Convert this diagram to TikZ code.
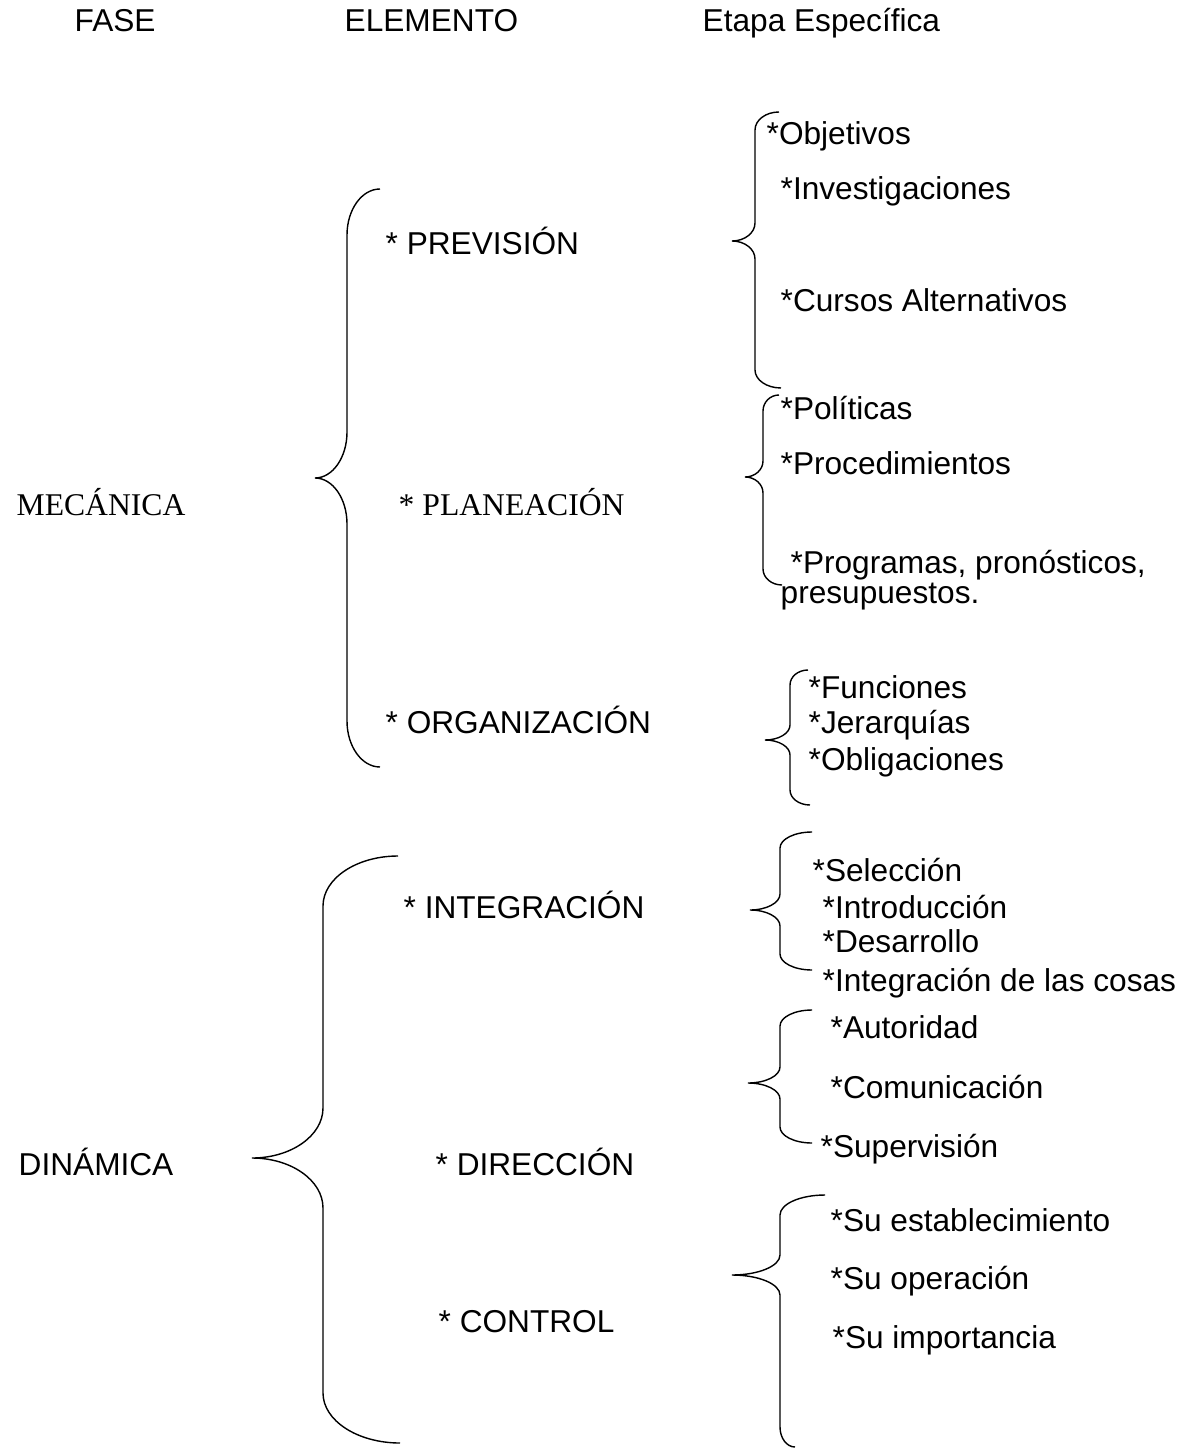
\documentclass[tikz,border=0pt]{standalone}
\usepackage{fontspec}
\setmainfont{Liberation Sans}
\newfontfamily\timesfont{Liberation Serif}
\usetikzlibrary{calc}

% llave: xt, yt, x vertical, x punta, y punta, xb, yb, radio
\newcommand{\llave}[8]{%
    \pgfmathsetmacro{\ka}{#1+0.552*(#3-#1)}
    \pgfmathsetmacro{\kb}{#2+0.448*#8}
    \pgfmathsetmacro{\kc}{#5-0.448*#8}
    \pgfmathsetmacro{\kd}{#4+0.552*(#3-#4)}
    \pgfmathsetmacro{\ke}{#5+0.448*#8}
    \pgfmathsetmacro{\kf}{#6+0.552*(#3-#6)}
    \pgfmathsetmacro{\kg}{#7-0.448*#8}
    \draw (#1,#2) .. controls (\ka,#2) and (#3,\kb) .. (#3,#2+#8) -- (#3,#5-#8)
    .. controls (#3,\kc) and (\kd,#5) .. (#4,#5)
    .. controls (\kd,#5) and (#3,\ke) .. (#3,#5+#8) -- (#3,#7-#8)
    .. controls (#3,\kg) and (\kf,#7) .. (#6,#7);
}

\begin{document}
\begin{tikzpicture}[x=0.02cm, y=-0.02cm, line width=0.8pt,
    txt/.style={font=\fontsize{18}{21}\selectfont, inner sep=0pt, anchor=base west},
    txtserif/.style={txt, font=\fontsize{18}{21}\selectfont\timesfont}]
    \useasboundingbox (0,0) rectangle (1187,1452);

    % encabezado
    \node [txt] (fase) at (74,32) {FASE};
    \node [txt] (elemento) at (344,32) {ELEMENTO};
    \node [txt] (etapa) at (702,32) {Etapa Específica};

    % fases
    \node [txtserif] (mecanica) at (16,515) {MECÁNICA};
    \node [txt] (dinamica) at (18,1175) {DINÁMICA};

    % elementos
    \node [txt] (prevision) at (385,255) {* PREVISIÓN};
    \node [txtserif] (planeacion) at (398,515) {* PLANEACIÓN};
    \node [txt] (organizacion) at (385,733) {* ORGANIZACIÓN};
    \node [txt] (integracion) at (403,918) {* INTEGRACIÓN};
    \node [txt] (direccion) at (435,1175) {* DIRECCIÓN};
    \node [txt] (control) at (438,1332) {* CONTROL};

    % etapas
    \node [txt] (objetivos) at (766,145) {*Objetivos};
    \node [txt] (investigaciones) at (780,200) {*Investigaciones};
    \node [txt] (cursos) at (780,312) {*Cursos Alternativos};
    \node [txt] (politicas) at (780,420) {*Políticas};
    \node [txt] (procedimientos) at (780,475) {*Procedimientos};
    \node [txt] (programas) at (790,573) {*Programas, pronósticos,};
    \node [txt] (presupuestos) at (780,603) {presupuestos.};
    \node [txt] (funciones) at (808,698) {*Funciones};
    \node [txt] (jerarquias) at (808,733) {*Jerarquías};
    \node [txt] (obligaciones) at (808,770) {*Obligaciones};
    \node [txt] (seleccion) at (812,881) {*Selección};
    \node [txt] (introduccion) at (822,918) {*Introducción};
    \node [txt] (desarrollo) at (822,952) {*Desarrollo};
    \node [txt] (integcosas) at (822,991) {*Integración de las cosas};
    \node [txt] (autoridad) at (830,1038) {*Autoridad};
    \node [txt] (comunicacion) at (830,1098) {*Comunicación};
    \node [txt] (supervision) at (820,1157) {*Supervisión};
    \node [txt] (establecimiento) at (830,1231) {*Su establecimiento};
    \node [txt] (operacion) at (830,1289) {*Su operación};
    \node [txt] (importancia) at (832,1348) {*Su importancia};

    % llaves grandes
    \llave{380}{189}{347}{315}{478}{380}{767}{46}
    \llave{398}{856}{323}{252}{1158}{400}{1443}{50}

    % llaves pequenas
    \llave{779}{112}{755}{732}{241}{781}{388}{18}
    \llave{779}{395}{763}{745}{477}{782}{585}{16}
    \llave{808}{670}{790}{765}{740}{810}{805}{15}
    \llave{812}{832}{780}{750}{910}{812}{970}{16}
    \llave{812}{1010}{780}{748}{1083}{812}{1143}{16}
    \llave{825}{1195}{780}{732}{1275}{795}{1447}{20}
\end{tikzpicture}
\end{document}
